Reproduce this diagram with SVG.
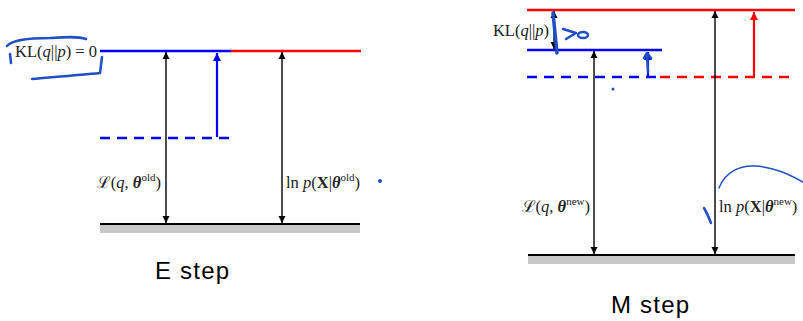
<svg xmlns="http://www.w3.org/2000/svg" width="803" height="321" viewBox="0 0 803 321">
<style>
.lvl{stroke-width:2.5;fill:none}
.blue{stroke:#0000ff}
.red{stroke:#ff0000}
.dash{stroke-dasharray:10,7}
.base{stroke:#000;stroke-width:2}
.bar{fill:#c8c8c8}
.arr{stroke:#000;stroke-width:1.4;fill:none}
.barr{stroke:#0000ff;stroke-width:2.2;fill:none}
.rarr{stroke:#ff0000;stroke-width:2.2;fill:none}
.lbl{font-family:"Liberation Serif","DejaVu Serif",serif;font-size:16.5px;fill:#222}
.it{font-style:italic}
.bi{font-style:italic;font-weight:bold}
.bd{font-weight:bold}
.sup{font-size:11px}
.title{font-family:"Liberation Sans",Arial,sans-serif;font-size:24px;letter-spacing:1.2px;fill:#000}
.ink{stroke:#1f4fc4;stroke-width:2.5;fill:none;stroke-linecap:round;stroke-linejoin:round}
</style>
<defs>
<marker id="ak" markerUnits="userSpaceOnUse" markerWidth="8" markerHeight="8" refX="7" refY="4" orient="auto-start-reverse"><path d="M0,0.5 L7,4 L0,7.5 z" fill="#000"/></marker>
<marker id="ab" markerUnits="userSpaceOnUse" markerWidth="9" markerHeight="9" refX="8" refY="4.5" orient="auto-start-reverse"><path d="M0,0.5 L8,4.5 L0,8.5 z" fill="#0000ff"/></marker>
<marker id="ar" markerUnits="userSpaceOnUse" markerWidth="9" markerHeight="9" refX="8" refY="4.5" orient="auto-start-reverse"><path d="M0,0.5 L8,4.5 L0,8.5 z" fill="#ff0000"/></marker>
</defs>

<g id="e-step">
  <g id="e-levels">
    <line class="lvl blue" x1="100" y1="51" x2="231" y2="51"/>
    <line class="lvl red" x1="231" y1="51" x2="361" y2="51"/>
    <line class="lvl blue dash" x1="100" y1="138" x2="231" y2="138"/>
    <rect class="bar" x="100" y="224" width="260" height="9"/>
    <line class="base" x1="100" y1="224" x2="360" y2="224"/>
  </g>
  <g id="e-connectors">
    <line class="arr" x1="166" y1="52" x2="166" y2="223" marker-start="url(#ak)" marker-end="url(#ak)"/>
    <line class="barr" x1="217" y1="137" x2="217" y2="53" marker-end="url(#ab)"/>
    <line class="arr" x1="282" y1="52" x2="282" y2="223" marker-start="url(#ak)" marker-end="url(#ak)"/>
  </g>
  <g id="e-labels">
    <text class="lbl" x="97" y="57" text-anchor="end">KL(<tspan class="it">q</tspan>||<tspan class="it">p</tspan>) = 0</text>
    <text class="lbl" x="161" y="188" text-anchor="end">ℒ(<tspan class="it">q</tspan>, <tspan class="bi">θ</tspan><tspan class="sup" dy="-7">old</tspan><tspan dy="7">)</tspan></text>
    <text class="lbl" x="286" y="188">ln <tspan class="it">p</tspan>(<tspan class="bd">X</tspan>|<tspan class="bi">θ</tspan><tspan class="sup" dy="-7">old</tspan><tspan dy="7">)</tspan></text>
    <text class="title" x="155" y="279">E step</text>
  </g>
</g>

<g id="m-step">
  <g id="m-levels">
    <line class="lvl red" x1="527" y1="10" x2="795" y2="10"/>
    <line class="lvl blue" x1="527" y1="50" x2="662" y2="50"/>
    <line class="lvl blue dash" x1="527" y1="77" x2="660" y2="77"/>
    <line class="lvl red dash" x1="660" y1="77" x2="795" y2="77"/>
    <rect class="bar" x="528" y="255" width="267" height="9"/>
    <line class="base" x1="528" y1="255" x2="795" y2="255"/>
  </g>
  <g id="m-connectors">
    <line class="arr" x1="554" y1="11" x2="554" y2="49" marker-start="url(#ak)" marker-end="url(#ak)"/>
    <line class="arr" x1="594" y1="51" x2="594" y2="254" marker-start="url(#ak)" marker-end="url(#ak)"/>
    <line class="barr" x1="648" y1="76" x2="648" y2="52" marker-end="url(#ab)"/>
    <line class="arr" x1="715" y1="11" x2="715" y2="254" marker-start="url(#ak)" marker-end="url(#ak)"/>
    <line class="rarr" x1="754" y1="76" x2="754" y2="12" marker-end="url(#ar)"/>
  </g>
  <g id="m-labels">
    <text class="lbl" x="549" y="36" text-anchor="end">KL(<tspan class="it">q</tspan>||<tspan class="it">p</tspan>)</text>
    <text class="lbl" x="590" y="212" text-anchor="end">ℒ(<tspan class="it">q</tspan>, <tspan class="bi">θ</tspan><tspan class="sup" dy="-7">new</tspan><tspan dy="7">)</tspan></text>
    <text class="lbl" x="719" y="212">ln <tspan class="it">p</tspan>(<tspan class="bd">X</tspan>|<tspan class="bi">θ</tspan><tspan class="sup" dy="-7">new</tspan><tspan dy="7">)</tspan></text>
    <text class="title" x="611" y="313">M step</text>
  </g>
</g>

<g id="annotations">
  <path class="ink" d="M7,46 C12,40 30,38 50,38 C65,37 78,36 86,39"/>
  <path class="ink" d="M10,54 L11,63"/>
  <path class="ink" d="M32,79 C55,77 80,75 100,73 L102,57"/>
  <circle cx="380" cy="181" r="2" fill="#1f4fc4"/>
  <path class="ink" style="stroke-width:3.5" d="M553,13 L557,53"/>
  <path class="ink" d="M563,29 L576,33 L566,39"/>
  <ellipse class="ink" cx="583" cy="35" rx="5" ry="3"/>
  <path class="ink" d="M648,72 L647,54 M644,58 L647,53 L651,58"/>
  <circle cx="613" cy="89" r="1.5" fill="#1f4fc4"/>
  <path class="ink" style="stroke-width:1.5" d="M719,188 C725,172 740,165 755,166 C775,167 790,175 803,182"/>
  <path class="ink" d="M704,208 C707,213 709,218 711,223"/>
</g>
</svg>
